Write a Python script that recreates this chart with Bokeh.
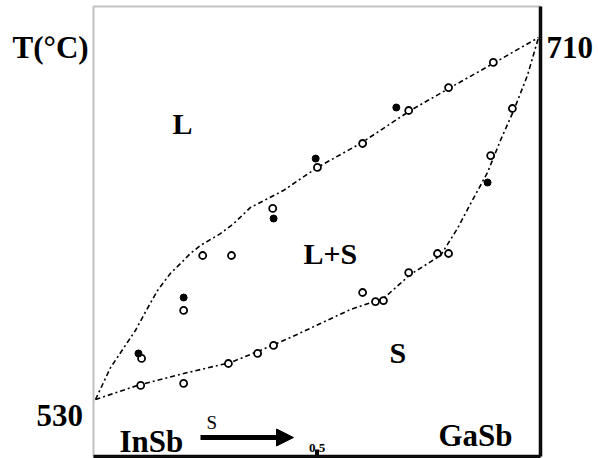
from bokeh.plotting import figure
from bokeh.models import Label, Arrow, NormalHead, Range1d, BoxAnnotation
from bokeh.embed import file_html
from bokeh.resources import INLINE

# ---- data (composition x of GaSb, temperature in °C) ----
liq_x = [0.000, 0.034, 0.063, 0.090, 0.117, 0.140, 0.169, 0.192, 0.214, 0.237,
         0.282, 0.312, 0.350, 0.424, 0.501, 0.598, 0.711, 0.801, 0.898, 1.000]
liq_t = [530.0, 545.9, 555.4, 564.3, 575.2, 584.2, 592.7, 597.6, 602.6, 606.6,
         612.5, 617.5, 625.5, 633.9, 645.4, 657.3, 673.7, 685.1, 697.1, 710.0]

sol_x = [0.000, 0.095, 0.208, 0.305, 0.372, 0.440, 0.508, 0.576, 0.650, 0.711,
         0.779, 0.817, 0.847, 0.885, 0.914, 0.944, 0.975, 1.000]
sol_t = [530.0, 537.0, 543.4, 548.4, 554.4, 560.8, 567.8, 574.8, 580.2, 592.2,
         601.6, 615.0, 627.5, 642.9, 658.8, 673.7, 691.1, 710.0]

open_x = [0.104, 0.199, 0.242, 0.307, 0.400, 0.501, 0.603, 0.707, 0.797, 0.898,
          0.102, 0.199, 0.300, 0.366, 0.402, 0.603, 0.632, 0.650, 0.707, 0.772,
          0.797, 0.892, 0.941]
open_t = [550.4, 574.3, 601.6, 601.6, 625.0, 645.4, 657.3, 673.7, 685.1, 697.6,
          537.0, 538.0, 547.9, 552.9, 556.9, 583.2, 578.7, 579.2, 593.1, 602.6,
          602.6, 651.3, 674.7]
fill_x = [0.097, 0.199, 0.402, 0.497, 0.679, 0.885]
fill_t = [552.9, 580.7, 620.0, 649.8, 675.2, 637.9]

tick_x = [0.5]
tick_labels = ["0.5"]
t_low, t_high = 530, 710

# ---- geometry (page pixels; the canvas fills the window) ----
W, H = 598, 458
K = 180 / 362


def dx(px):
    return (px - 95) / 443


def dy(py):
    return 530 + (399 - py) * K


p = figure(width=W, height=H, output_backend="svg", toolbar_location=None,
           x_range=Range1d(dx(0), dx(W)), y_range=Range1d(dy(H), dy(0)),
           min_border_left=0, min_border_right=0,
           min_border_top=0, min_border_bottom=0)
p.axis.visible = False
p.grid.visible = False
p.background_fill_color = "white"
p.border_fill_color = "white"
p.outline_line_color = None

# plot box
BL, BR, BT, BB = dx(93), dx(540), dy(6), dy(456)
p.add_layout(BoxAnnotation(left=BL, right=BR, top=BT, bottom=BB, fill_alpha=0,
                           line_color="#333333", line_width=2))
p.segment(x0=[BR, BL], y0=[BT, BB], x1=[BR, BR], y1=[BB, BB],
          line_color="black", line_width=3.5)

p.line(liq_x, liq_t, line_color="black", line_width=1.6, line_dash="5 3 2 3")
p.line(sol_x, sol_t, line_color="black", line_width=1.6, line_dash="5 3 2 3")
p.scatter(open_x, open_t, marker="circle", size=7, fill_color="white",
          line_color="black", line_width=1.8)
p.scatter(fill_x, fill_t, marker="circle", size=7, fill_color="black",
          line_color="black")

# tick on bottom edge at 0.5
p.segment(x0=tick_x, y0=[BB] * len(tick_x), x1=tick_x, y1=[BB + 7 * K] * len(tick_x),
          line_color="black", line_width=4)

FONT = "Liberation Serif"


def lab(text, px, py, size="31px", bold=True, align="left"):
    p.add_layout(Label(x=dx(px), y=dy(py), text=text, text_font=FONT,
                       text_font_size=size,
                       text_font_style="bold" if bold else "normal",
                       text_align=align, text_baseline="alphabetic",
                       text_color="black"))


lab("T(°C)", 12, 47)
lab(str(t_high), 546, 47)
lab(str(t_low), 36, 415)
lab("L", 172, 123, size="30px")
lab("L+S", 303, 253, size="30px")
lab("S", 389, 352, size="30px")
lab("InSb", 119, 441)
lab("GaSb", 438, 435)
lab("S", 206, 422, size="19px", bold=False)
for tx, tl in zip(tick_x, tick_labels):
    p.add_layout(Label(x=tx, y=dy(447), text=tl, text_font="Liberation Sans Narrow",
                       text_font_size="13px", text_font_style="bold",
                       text_align="center", text_baseline="alphabetic",
                       text_color="black"))

p.add_layout(Arrow(x_start=dx(200), y_start=dy(437), x_end=dx(293), y_end=dy(437),
                   line_color="black", line_width=5,
                   end=NormalHead(size=17, fill_color="black", line_color="black")))

open("out.html", "w").write(file_html(p, INLINE))
